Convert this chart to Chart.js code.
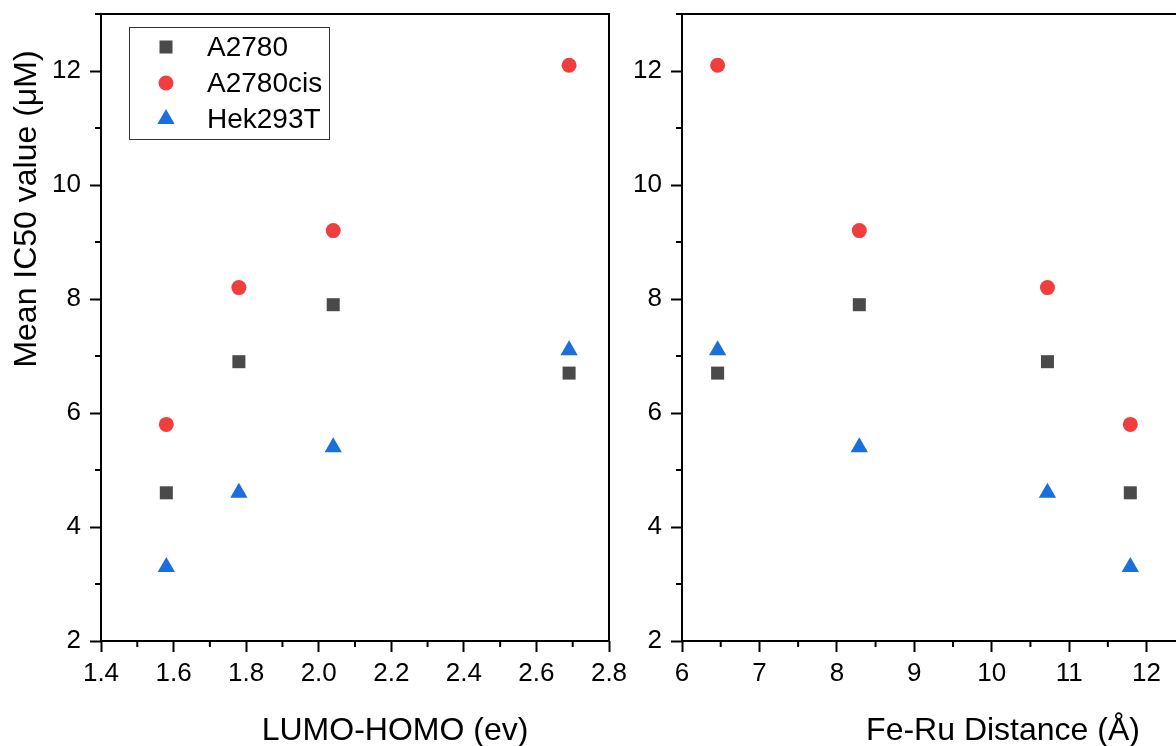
<!DOCTYPE html>
<html>
<head>
<meta charset="utf-8">
<script src="https://cdn.jsdelivr.net/npm/chart.js@4.4.1/dist/chart.umd.min.js"></script>
<style>
html,body{margin:0;padding:0;background:#fff;overflow:hidden;}
#wrap{position:relative;width:1176px;height:746px;overflow:hidden;background:#fff;}
#left{position:absolute;left:0;top:0;width:640px;height:746px;}
#right{position:absolute;left:600px;top:0;width:700px;height:746px;}
</style>
</head>
<body>
<div id="wrap">
<canvas id="left" width="640" height="746"></canvas>
<canvas id="right" width="700" height="746"></canvas>
</div>
<script>
// data
const lumoHomo = [1.58, 1.78, 2.04, 2.69];
const feRuDist = [11.79, 10.72, 8.29, 6.46];
const a2780 = [4.6, 6.9, 7.9, 6.7];
const a2780cis = [5.8, 8.2, 9.2, 12.1];
const hek293t = [3.3, 4.6, 5.4, 7.1];
const seriesNames = ["A2780", "A2780cis", "Hek293T"];

const colors = ["#4a4a4a", "#f03e3e", "#1b6fdc"];
const styles = ["rect", "circle", "triangle"];
const radii = [9.2, 7.5, 10];
const FONT = "'Liberation Sans', Arial, sans-serif";

Chart.defaults.font.family = FONT;
Chart.defaults.color = "#000";

function pts(xs, ys){
  return xs.map((x,i)=>({x:x, y:ys[i]}));
}

function drawMarker(ctx, style, r, x, y){
  ctx.beginPath();
  if(style==="rect"){
    let s=Math.SQRT1_2*r;
    ctx.rect(x-s,y-s,2*s,2*s);
  }else if(style==="circle"){
    ctx.arc(x,y,r,0,Math.PI*2);
  }else{
    ctx.moveTo(x,y-r);
    ctx.lineTo(x+r*Math.sin(Math.PI*2/3),y-r*Math.cos(Math.PI*2/3));
    ctx.lineTo(x+r*Math.sin(Math.PI*4/3),y-r*Math.cos(Math.PI*4/3));
    ctx.closePath();
  }
  ctx.fill();
}

function makeChart(id, xs, xMin, xMax, xStep, xMajor, xLabel, opt){
  let yMajor = v => Math.round(v)%2===0;

  let frame = {
    id:"frame"+id,
    afterDraw(chart){
      let ctx=chart.ctx, a=chart.chartArea;
      ctx.save();
      ctx.strokeStyle="#000";
      ctx.lineWidth=2;
      ctx.strokeRect(a.left,a.top,a.right-a.left,a.bottom-a.top);
      // minor ticks
      chart.scales.x.ticks.forEach(t=>{
        if(xMajor(t.value)) return;
        let px=chart.scales.x.getPixelForValue(t.value);
        ctx.beginPath();ctx.moveTo(px,a.bottom);ctx.lineTo(px,a.bottom+6);ctx.stroke();
      });
      chart.scales.y.ticks.forEach(t=>{
        if(yMajor(t.value)) return;
        let py=chart.scales.y.getPixelForValue(t.value);
        ctx.beginPath();ctx.moveTo(a.left,py);ctx.lineTo(a.left-6,py);ctx.stroke();
      });
      // axis titles
      ctx.fillStyle="#000";
      ctx.font="32px "+FONT;
      ctx.textAlign="center";
      ctx.textBaseline="alphabetic";
      ctx.fillText(xLabel,a.left+opt.xTitleDx,740);
      if(opt.yTitle){
        ctx.save();
        ctx.translate(36,209);
        ctx.rotate(-Math.PI/2);
        ctx.fillText(opt.yTitle,0,0);
        ctx.restore();
      }
      // legend
      if(opt.legend){
        let lx=a.left+28, ly=a.top+13;
        ctx.lineWidth=1;
        ctx.strokeStyle="#333";
        ctx.strokeRect(lx+0.5,ly+0.5,200,112);
        ctx.font="28px "+FONT;
        ctx.textAlign="left";
        ctx.textBaseline="middle";
        chart.data.datasets.forEach((d,i)=>{
          let cy=ly+20+i*36;
          ctx.fillStyle=colors[i];
          drawMarker(ctx,styles[i],radii[i],lx+37,cy);
          ctx.fillStyle="#000";
          ctx.fillText(d.label,lx+78,cy+1);
        });
      }
      ctx.restore();
    }
  };

  let ysets=[a2780,a2780cis,hek293t];
  return new Chart(document.getElementById(id),{
    type:"scatter",
    data:{
      datasets: ysets.map((ys,i)=>({
        label:seriesNames[i],
        data:pts(xs,ys),
        pointStyle:styles[i],
        pointRadius:radii[i],
        pointHoverRadius:radii[i],
        pointBackgroundColor:colors[i],
        pointBorderColor:colors[i],
        pointBorderWidth:0
      }))
    },
    options:{
      responsive:false,
      animation:false,
      layout:{padding:{left:0,right:opt.padRight,top:14,bottom:0}},
      plugins:{legend:{display:false},tooltip:{enabled:false}},
      scales:{
        x:{
          type:"linear",
          min:xMin,max:xMax,
          afterFit(s){s.height=105;s.paddingLeft=0;s.paddingRight=0;},
          border:{display:false},
          grid:{
            drawOnChartArea:false,
            drawTicks:true,
            tickLength:11,
            tickWidth:2,
            tickColor:c=>xMajor(c.tick.value)?"#000":"rgba(0,0,0,0)"
          },
          ticks:{
            stepSize:xStep,
            autoSkip:false,
            maxRotation:0,
            padding:6,
            font:{size:26},
            color:"#000",
            callback:v=>xMajor(v)?opt.fmt(v):""
          }
        },
        y:{
          type:"linear",
          min:2,max:13,
          afterFit(s){s.width=opt.yWidth;s.paddingTop=0;s.paddingBottom=0;},
          border:{display:false},
          grid:{
            drawOnChartArea:false,
            drawTicks:true,
            tickLength:11,
            tickWidth:2,
            tickColor:c=>yMajor(c.tick.value)?"#000":"rgba(0,0,0,0)"
          },
          ticks:{
            stepSize:1,
            autoSkip:false,
            padding:9,
            font:{size:26},
            color:"#000",
            callback:v=>yMajor(v)?String(Math.round(v)):""
          }
        }
      }
    },
    plugins:[frame]
  });
}

makeChart("left", lumoHomo, 1.4, 2.8, 0.1,
  v=>Math.round(v*10)%2===0,
  "LUMO-HOMO (ev)",
  {padRight:31, yWidth:101, xTitleDx:294, yTitle:"Mean IC50 value (\u03bcM)", legend:true,
   fmt:v=>v.toFixed(1)});

makeChart("right", feRuDist, 6, 13, 0.5,
  v=>Math.abs(v-Math.round(v))<1e-6,
  "Fe-Ru Distance (\u00c5)",
  {padRight:76, yWidth:82, xTitleDx:321, yTitle:null, legend:false,
   fmt:v=>String(Math.round(v))});
</script>
</body>
</html>
